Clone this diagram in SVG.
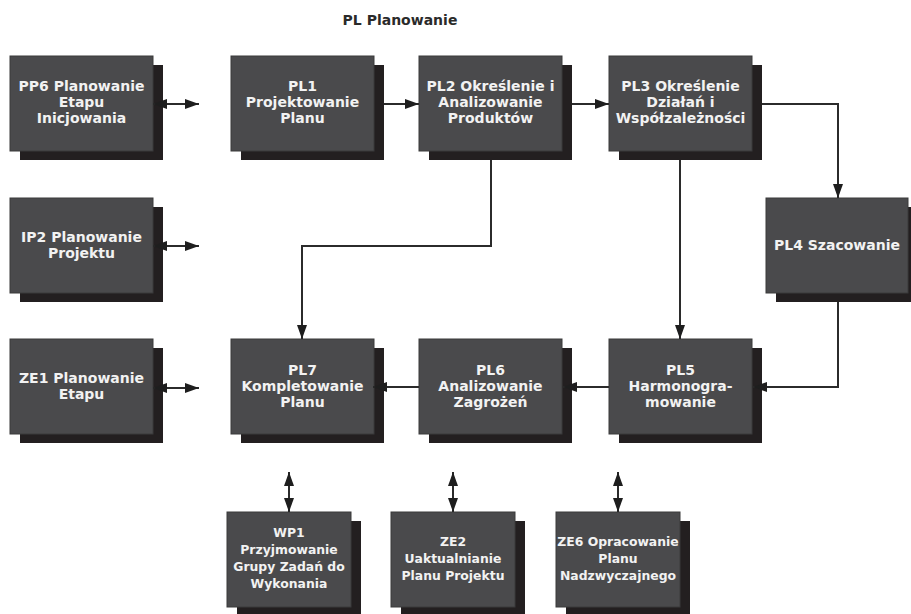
<svg xmlns="http://www.w3.org/2000/svg" width="911" height="614" viewBox="0 0 911 614">
<style>
.sh{fill:#231f20}
.bx{fill:#4a4a4c;stroke:#3a3a3b;stroke-width:1}
.t{font-family:"DejaVu Sans","Verdana",sans-serif;font-weight:bold;font-size:14px;fill:#f2f2f2;text-anchor:middle}
.s{font-size:12.4px}
.ttl{font-family:"DejaVu Sans","Verdana",sans-serif;font-weight:bold;font-size:14px;fill:#2a2a2a;text-anchor:middle}
.ln{fill:none;stroke:#2b2b2b;stroke-width:2}
.a{marker-end:url(#ah)}
.d{marker-start:url(#ah);marker-end:url(#ah)}
</style>
<defs>
<marker id="ah" markerUnits="userSpaceOnUse" markerWidth="14" markerHeight="10" refX="14" refY="5" orient="auto-start-reverse">
<path d="M0,0 L14,5 L0,10 z" fill="#1e1e1e"/>
</marker>
</defs>
<rect width="911" height="614" fill="#ffffff"/>
<text class="ttl" x="400" y="25">PL Planowanie</text>

<g id="PP6"><rect class="sh" x="20" y="65" width="143" height="95"/><rect class="bx" x="10" y="56" width="143" height="95"/>
<text class="t" x="81.5" y="91">PP6 Planowanie</text><text class="t" x="81.5" y="107">Etapu</text><text class="t" x="81.5" y="123">Inicjowania</text></g>

<g id="PL1"><rect class="sh" x="241" y="65" width="143" height="95"/><rect class="bx" x="231" y="56" width="143" height="95"/>
<text class="t" x="302.5" y="91">PL1</text><text class="t" x="302.5" y="107">Projektowanie</text><text class="t" x="302.5" y="123">Planu</text></g>

<g id="PL2"><rect class="sh" x="429" y="65" width="143" height="95"/><rect class="bx" x="419" y="56" width="143" height="95"/>
<text class="t" x="490.5" y="91">PL2 Określenie i</text><text class="t" x="490.5" y="107">Analizowanie</text><text class="t" x="490.5" y="123">Produktów</text></g>

<g id="PL3"><rect class="sh" x="619" y="65" width="143" height="95"/><rect class="bx" x="609" y="56" width="143" height="95"/>
<text class="t" x="680.5" y="91">PL3 Określenie</text><text class="t" x="680.5" y="107">Działań i</text><text class="t" x="680.5" y="123">Współzależności</text></g>

<g id="IP2"><rect class="sh" x="20" y="207" width="143" height="95"/><rect class="bx" x="10" y="198" width="143" height="95"/>
<text class="t" x="81.5" y="242">IP2 Planowanie</text><text class="t" x="81.5" y="258">Projektu</text></g>

<g id="PL4"><rect class="sh" x="776" y="207" width="143" height="95"/><rect class="bx" x="766" y="198" width="142" height="95"/>
<text class="t" x="837" y="250">PL4 Szacowanie</text></g>

<g id="ZE1"><rect class="sh" x="20" y="348" width="143" height="95"/><rect class="bx" x="10" y="339" width="143" height="95"/>
<text class="t" x="81.5" y="383">ZE1 Planowanie</text><text class="t" x="81.5" y="399">Etapu</text></g>

<g id="PL7"><rect class="sh" x="241" y="348" width="143" height="95"/><rect class="bx" x="231" y="339" width="143" height="95"/>
<text class="t" x="302.5" y="375">PL7</text><text class="t" x="302.5" y="391">Kompletowanie</text><text class="t" x="302.5" y="407">Planu</text></g>

<g id="PL6"><rect class="sh" x="429" y="348" width="143" height="95"/><rect class="bx" x="419" y="339" width="143" height="95"/>
<text class="t" x="490.5" y="375">PL6</text><text class="t" x="490.5" y="391">Analizowanie</text><text class="t" x="490.5" y="407">Zagrożeń</text></g>

<g id="PL5"><rect class="sh" x="619" y="348" width="143" height="95"/><rect class="bx" x="609" y="339" width="143" height="95"/>
<text class="t" x="680.5" y="375">PL5</text><text class="t" x="680.5" y="391">Harmonogra-</text><text class="t" x="680.5" y="407">mowanie</text></g>

<g id="WP1"><rect class="sh" x="237" y="521" width="124" height="95"/><rect class="bx" x="227" y="512" width="124" height="95"/>
<text class="t s" x="289" y="537">WP1</text><text class="t s" x="289" y="554">Przyjmowanie</text><text class="t s" x="289" y="571">Grupy Zadań do</text><text class="t s" x="289" y="588">Wykonania</text></g>

<g id="ZE2"><rect class="sh" x="401" y="521" width="124" height="95"/><rect class="bx" x="391" y="512" width="124" height="95"/>
<text class="t s" x="453" y="546">ZE2</text><text class="t s" x="453" y="563">Uaktualnianie</text><text class="t s" x="453" y="580">Planu Projektu</text></g>

<g id="ZE6"><rect class="sh" x="566" y="521" width="124" height="95"/><rect class="bx" x="556" y="512" width="124" height="95"/>
<text class="t s" x="618" y="546">ZE6 Opracowanie</text><text class="t s" x="618" y="563">Planu</text><text class="t s" x="618" y="580">Nadzwyczajnego</text></g>

<g id="connectors">
<line class="ln d" x1="153" y1="104" x2="199" y2="104"/>
<line class="ln d" x1="153" y1="246" x2="199" y2="246"/>
<line class="ln d" x1="153" y1="388" x2="199" y2="388"/>
<line class="ln a" x1="384" y1="104" x2="419" y2="104"/>
<line class="ln a" x1="572" y1="104" x2="609" y2="104"/>
<path class="ln a" d="M762,104 H838 V198"/>
<path class="ln a" d="M838,302 V387 H753"/>
<path class="ln a" d="M680,160 V339"/>
<path class="ln a" d="M491,160 V246 H302 V339"/>
<path class="ln a" d="M609,387 H563"/>
<path class="ln a" d="M419,387 H373"/>
<line class="ln d" x1="289" y1="472" x2="289" y2="512"/>
<line class="ln d" x1="453" y1="472" x2="453" y2="512"/>
<line class="ln d" x1="618" y1="472" x2="618" y2="512"/>
</g>
</svg>
